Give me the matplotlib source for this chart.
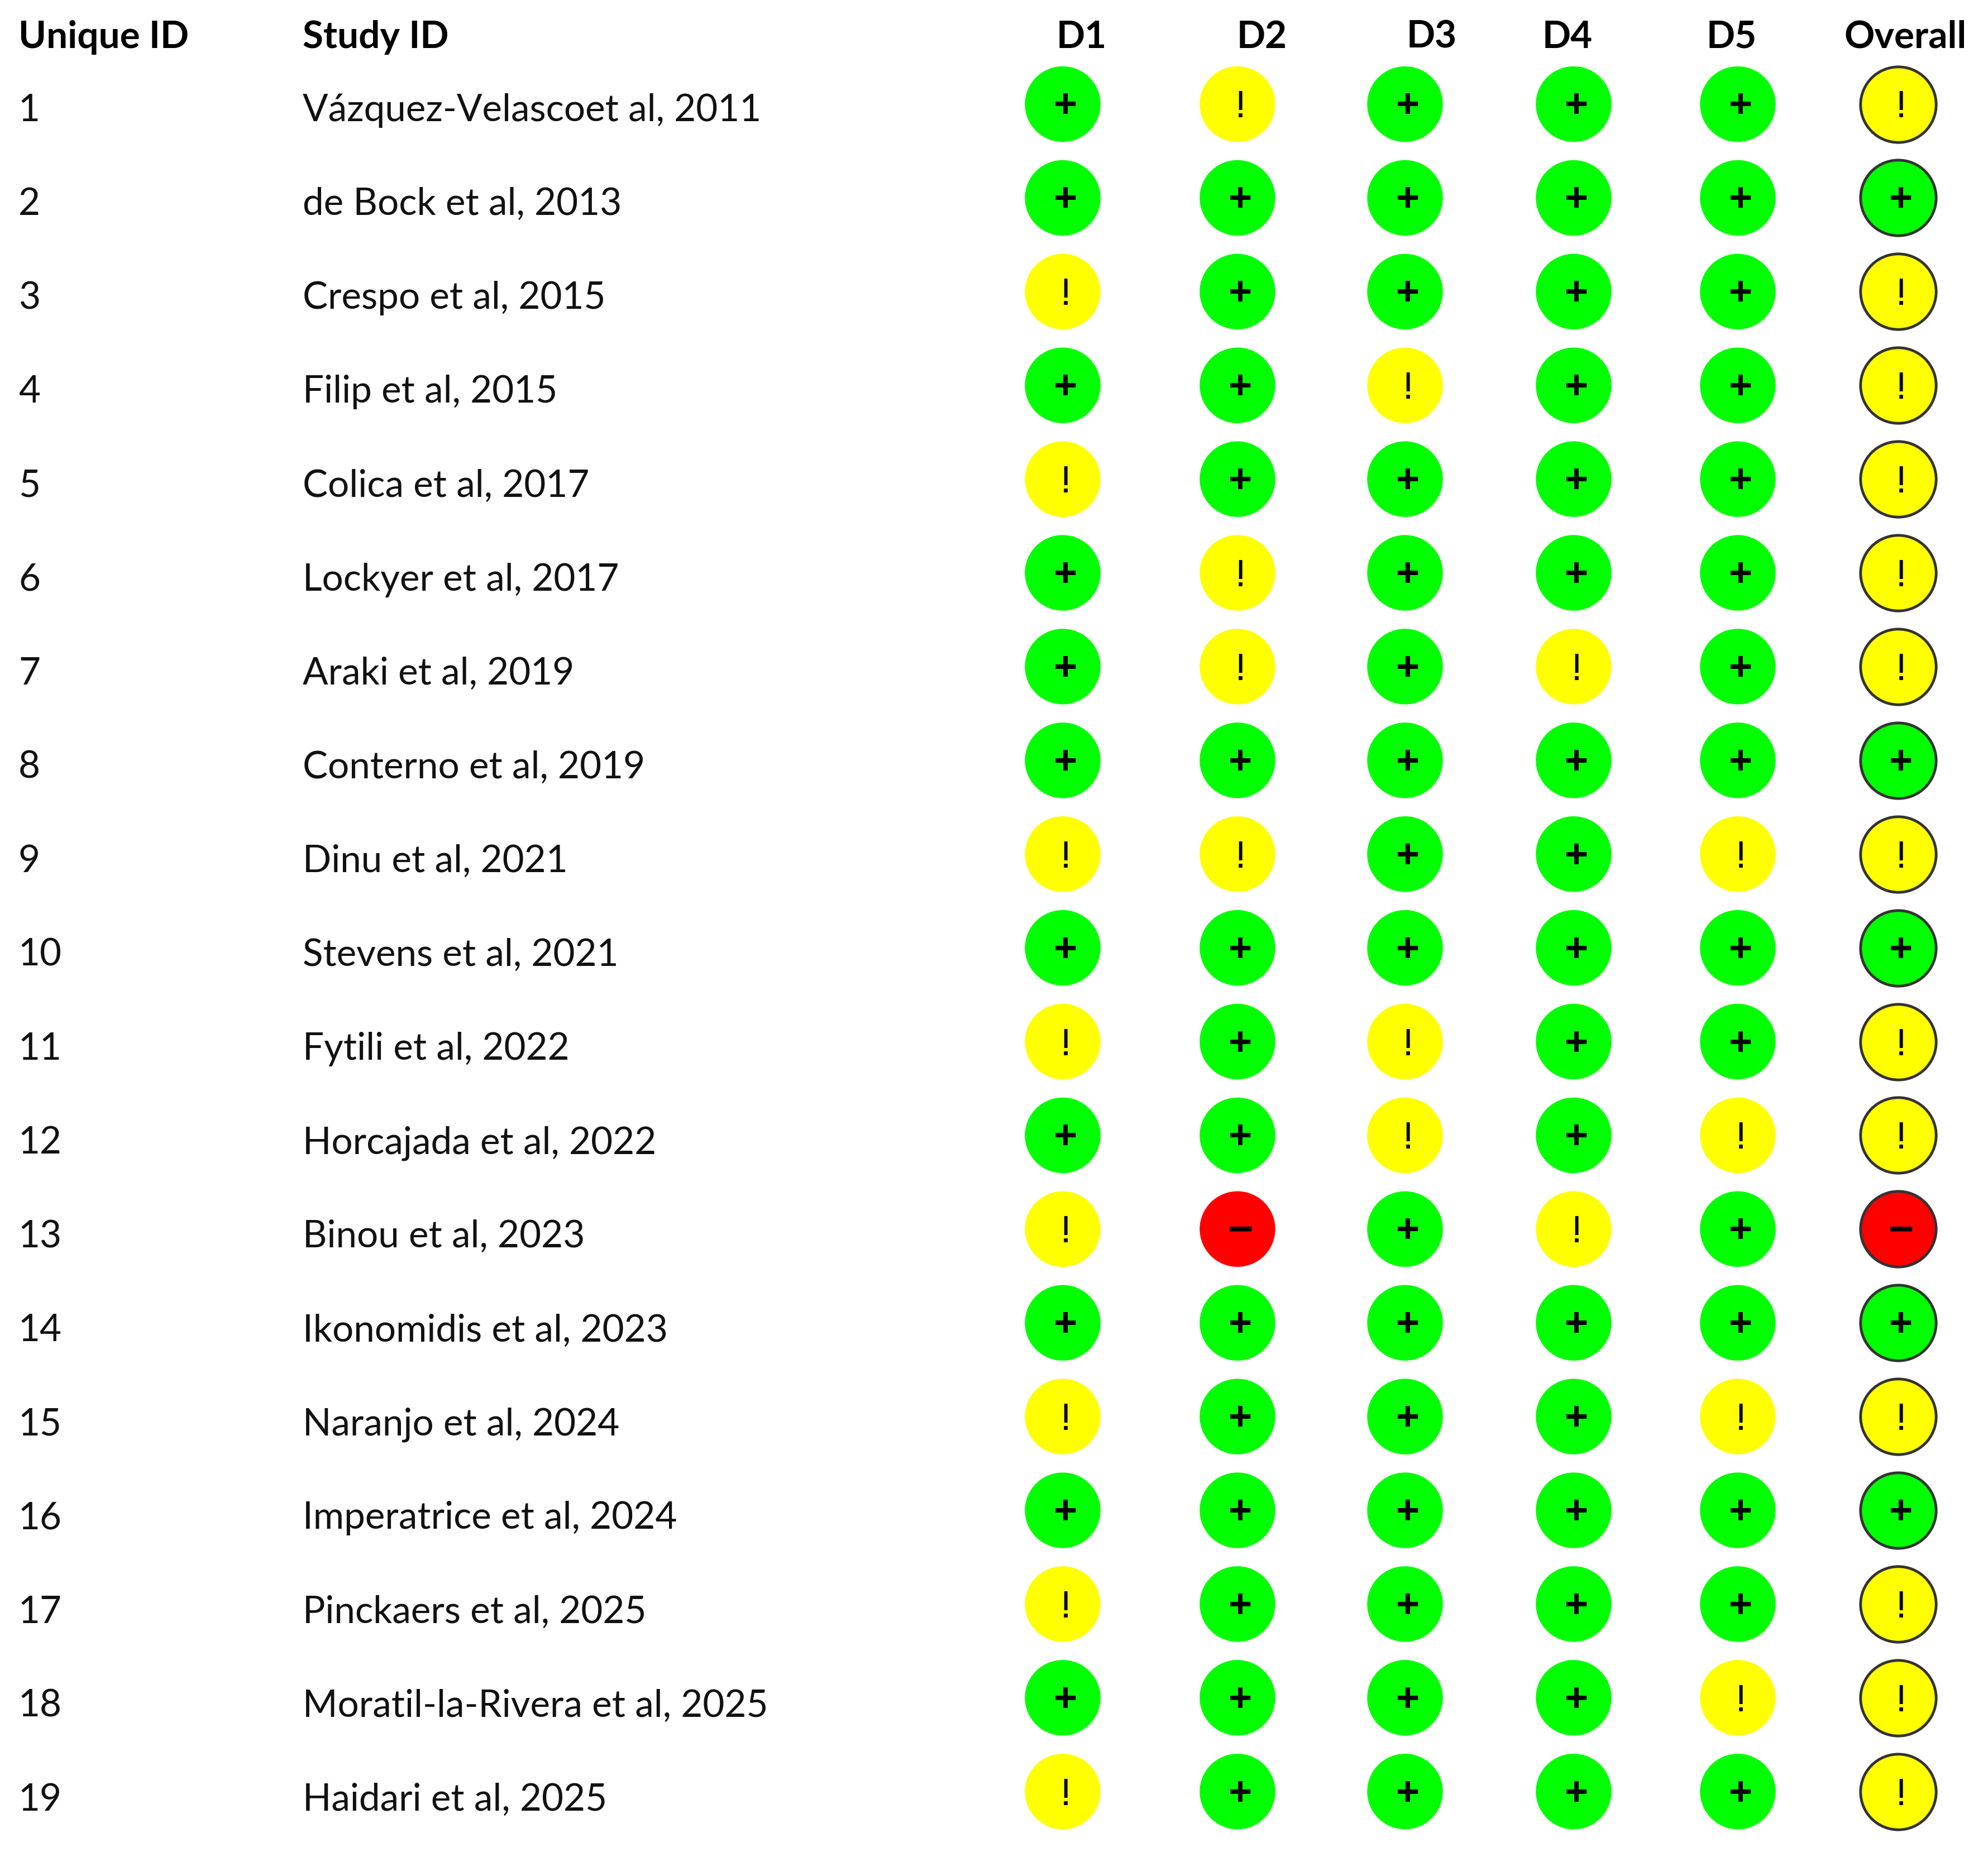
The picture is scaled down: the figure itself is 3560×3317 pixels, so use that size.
import matplotlib
matplotlib.use("Agg")
import matplotlib.pyplot as plt

unique_ids = list(range(1, 20))
study_ids = [
    "Vázquez-Velascoet al, 2011", "de Bock et al, 2013", "Crespo et al, 2015",
    "Filip et al, 2015", "Colica et al, 2017", "Lockyer et al, 2017",
    "Araki et al, 2019", "Conterno et al, 2019", "Dinu et al, 2021",
    "Stevens et al, 2021", "Fytili et al, 2022", "Horcajada et al, 2022",
    "Binou et al, 2023", "Ikonomidis et al, 2023", "Naranjo et al, 2024",
    "Imperatrice et al, 2024", "Pinckaers et al, 2025",
    "Moratil-la-Rivera et al, 2025", "Haidari et al, 2025",
]
domains = ["D1", "D2", "D3", "D4", "D5", "Overall"]

# one string per study, one sign per domain
ratings = [
    "+!+++!", "++++++", "!++++!", "++!++!", "!++++!", "+!+++!", "+!+!+!",
    "++++++", "!!++!!", "++++++", "!+!++!", "++!+!!", "!-+!+-", "++++++",
    "!+++!!", "++++++", "!++++!", "++++!!", "!++++!",
]

# layout, in pixels of the 3560x3317 picture
col_x = [1903, 2216, 2516, 2818, 3112, 3399]
head_x = [1937, 2260, 2564, 2807, 3101, 3412]
row0 = 186.5
row_step = 167.9
id_x = 33
study_x = 542

colors = {"+": "#00ff00", "!": "#ffff00", "-": "#ff0000"}
glyphs = {"+": "+", "!": "!", "-": "\u2212"}
glyph_dy = {"+": 24, "!": 24, "-": 25}
glyph_size = {"+": 52, "!": 50, "-": 56}
glyph_weight = {"+": "bold", "!": "normal", "-": "bold"}

fig = plt.figure(figsize=(35.6, 33.17), dpi=100)
ax = fig.add_axes([0, 0, 1, 1])
ax.set_xlim(0, 3560)
ax.set_ylim(3317, 0)
ax.axis("off")

font = "Lato"
size = 48.5

ax.text(id_x, 86, "Unique ID", family=font, weight="bold", fontsize=size, va="baseline")
ax.text(study_x, 86, "Study ID", family=font, weight="bold", fontsize=size, va="baseline")
for x, d in zip(head_x, domains):
    ax.text(x, 86, d, family=font, weight="bold", fontsize=size, ha="center", va="baseline")

for i, (uid, study) in enumerate(zip(unique_ids, study_ids)):
    y = 217 + i * 168.1
    ax.text(id_x, y, str(uid), family=font, fontsize=size, va="baseline", color="#111111")
    ax.text(study_x, y, study, family=font, fontsize=size, va="baseline", color="#111111")

for i, row in enumerate(ratings):
    y = row0 + i * row_step
    for j, r in enumerate(row):
        is_overall = domains[j] == "Overall"
        ax.scatter(col_x[j], y, s=9500, c=colors[r], marker="o", zorder=2,
                   edgecolors="#333333" if is_overall else "none",
                   linewidths=3.5 if is_overall else 0)
        ax.text(col_x[j] + 5, y + glyph_dy[r], glyphs[r], family="Liberation Sans",
                weight=glyph_weight[r], fontsize=glyph_size[r],
                ha="center", va="baseline", zorder=3)

fig.savefig("out.png", dpi=100, facecolor="white")
